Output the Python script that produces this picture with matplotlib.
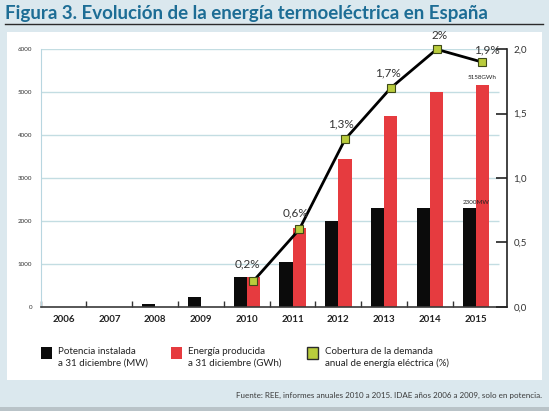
import numpy as np
import matplotlib.pyplot as plt
from matplotlib.patches import Rectangle
from matplotlib.lines import Line2D

plt.rcParams['font.family'] = ['Lato', 'DejaVu Sans']

years = ['2006', '2007', '2008', '2009', '2010', '2011', '2012', '2013', '2014', '2015']
potencia_mw = [0, 0, 60, 232, 682, 1049, 2000, 2300, 2300, 2300]
energia_gwh = [0, 0, 0, 0, 692, 1832, 3444, 4442, 5013, 5158]
cobertura_yrs = ['2010', '2011', '2012', '2013', '2014', '2015']
cobertura_pct = [0.2, 0.6, 1.3, 1.7, 2.0, 1.9]
cobertura_lbl = ['0,2%', '0,6%', '1,3%', '1,7%', '2%', '1,9%']

W, H = 549, 411
BG = '#dbe8ee'
RED = '#e63b3f'
GREEN = '#b9cc3c'
GRID = '#c3dde2'
TITLE = '#1d6d95'


def fx(px):
    return px / W


def fy(py):
    return 1 - py / H


fig = plt.figure(figsize=(W / 100, H / 100), dpi=100)
fig.patch.set_facecolor(BG)

# bottom shadow and white panel (behind the axes)
fig.patches.append(Rectangle((0, 0), 1, fy(406.5), transform=fig.transFigure,
                             facecolor='#b9c3c8', edgecolor='none', zorder=-2))
fig.patches.append(Rectangle((fx(7), fy(379.5)), fx(542) - fx(7), fy(32) - fy(379.5),
                             transform=fig.transFigure, facecolor='white',
                             edgecolor='none', zorder=-2))

fig.text(fx(5), fy(13), 'Figura 3. Evolución de la energía termoeléctrica en España',
         fontsize=13.5, fontweight='bold', color=TITLE, va='center', ha='left')
fig.add_artist(Line2D([fx(5), fx(543)], [fy(24.5), fy(24.5)], transform=fig.transFigure,
                      color='#2b2b2b', lw=1.0))

ax = fig.add_axes([fx(40.7), fy(306.7), fx(506.7) - fx(40.7), fy(49.3) - fy(306.7)])
ax.set_facecolor('none')
x = np.arange(len(years))
bw = 0.29
ax.hlines(np.arange(1000, 6001, 1000), -0.5, 9.5, color=GRID, lw=1.0, zorder=1)
ax.bar(x - bw / 2, potencia_mw, bw, color='#0b0b0b', zorder=2)
ax.bar(x + bw / 2, energia_gwh, bw, color=RED, zorder=2)
ax.set_xlim(-0.5, 9.675)
ax.set_ylim(0, 6000)
ax.set_yticks(np.arange(0, 6001, 1000))
ax.tick_params(axis='y', length=0, labelsize=4.5, pad=6, labelcolor='#333333')
ax.set_xticks(x)
ax.set_xticklabels(years, fontsize=7, fontweight='bold', color='#222222')
ax.set_xticks(np.arange(-0.5, 9, 1), minor=True)
ax.tick_params(axis='x', which='major', length=0, pad=6)
ax.tick_params(axis='x', which='minor', direction='in', length=4, width=1, color='#333333')
for s in ['top', 'right']:
    ax.spines[s].set_visible(False)
ax.spines['left'].set_color('#b8d6e0')
ax.spines['bottom'].set_color('#3a3a3a')
ax.spines['bottom'].set_linewidth(1.2)

ax.text(9, 2300 + 80, '2300MW', fontsize=4.5, ha='center', va='bottom', color='#222222')
ax.text(9 + bw / 2, 5158 + 130, '5158GWh', fontsize=4.5, ha='center', va='bottom',
        color='#222222')

ax2 = ax.twinx()
ax2.set_ylim(0, 2.0)
ax2.set_yticks([0, 0.5, 1.0, 1.5, 2.0])
ax2.set_yticklabels(['0,0', '0,5', '1,0', '1,5', '2,0'])
ax2.tick_params(axis='y', direction='in', length=8, width=1.2, color='#222222',
                labelsize=7, pad=5, labelcolor='#333333')
for s in ['top', 'left', 'bottom']:
    ax2.spines[s].set_visible(False)
ax2.spines['right'].set_color('#222222')
ax2.spines['right'].set_linewidth(1.2)

cx = [years.index(y) + bw / 2 for y in cobertura_yrs]
ax2.plot(cx, cobertura_pct, color='black', lw=2, zorder=3, clip_on=False)
ax2.plot(cx, cobertura_pct, ls='none', marker='s', ms=5.5, mfc=GREEN, mec='#3f4a18',
         mew=0.8, zorder=4, clip_on=False)
offsets = [(-4, 8), (-3, 8), (-3, 7), (-2, 7), (2, 6), (3, 5)]
for xi, yi, lbl, off in zip(cx, cobertura_pct, cobertura_lbl, offsets):
    ax2.annotate(lbl, (xi, yi), xytext=off, textcoords='offset points', ha='center',
                 va='bottom', fontsize=8.5, color='#333333')

# legend
items = [
    ('#0b0b0b', 'none', 40.5, 'Potencia instalada\na 31 diciembre (MW)'),
    (RED, 'none', 170.5, 'Energía producida\na 31 diciembre (GWh)'),
    (GREEN, '#2b2b2b', 307, 'Cobertura de la demanda\nanual de energía eléctrica (%)'),
]
for fc, ec, px, lbl in items:
    fig.patches.append(Rectangle((fx(px), fy(358.5)), fx(11), fy(347) - fy(358.5),
                                 transform=fig.transFigure, facecolor=fc, edgecolor=ec,
                                 lw=1.0 if ec != 'none' else 0))
    fig.text(fx(px + 18), fy(357.5), lbl, fontsize=7, va='center', ha='left',
             color='#222222', linespacing=1.35)

fig.text(fx(541.5), fy(395), 'Fuente: REE, informes anuales 2010 a 2015. '
         'IDAE años 2006 a 2009, solo en potencia.', fontsize=5.8, ha='right', va='center',
         color='#3a3a3a')

fig.savefig('out.png', dpi=100, facecolor=fig.get_facecolor())
